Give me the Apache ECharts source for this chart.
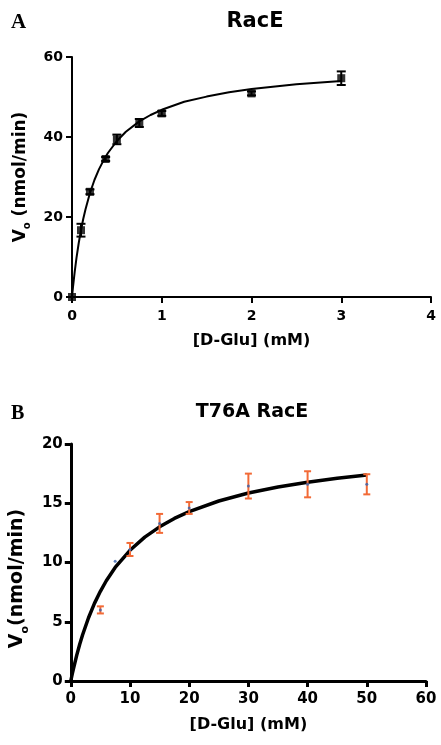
<!DOCTYPE html>
<html>
<head>
<meta charset="utf-8">
<script src="https://cdn.jsdelivr.net/npm/echarts@6/dist/echarts.min.js"></script>
<style>
html,body{margin:0;padding:0;background:#fff;}
#c{width:441px;height:745px;}
</style>
</head>
<body>
<div id="c"></div>
<script>
// Panel A: RacE
var concA = [0, 0.1, 0.2, 0.375, 0.5, 0.75, 1, 2, 3];
var rateA = [0, 16.7, 26.3, 34.5, 39.4, 43.5, 45.9, 50.9, 54.7];
var errA  = [0, 1.6, 0.6, 0.5, 1.2, 1.0, 0.6, 0.5, 1.7];
var fitXA = [0, 0.01, 0.02, 0.03, 0.05, 0.075, 0.1, 0.125, 0.15, 0.2, 0.25, 0.3, 0.35, 0.4, 0.5, 0.6, 0.75, 0.875, 1, 1.25, 1.5, 1.75, 2, 2.5, 3];
var fitYA = [0, 2.25, 4.3, 6.27, 9.8, 13.5, 16.7, 19.5, 21.9, 26.0, 29.25, 31.9, 34.1, 36.0, 39.0, 41.3, 43.9, 45.5, 46.8, 48.8, 50.1, 51.2, 52.0, 53.2, 54.0];

// Panel B: T76A RacE
var concB = [5, 7.5, 10, 15, 20, 30, 40, 50];
var rateB = [6.0, 10.1, 11.1, 13.3, 14.6, 16.45, 16.6, 16.6];
var errB  = [0.3, 0, 0.55, 0.8, 0.5, 1.05, 1.1, 0.85];
var fitXB = [0, 0.25, 0.5, 1, 1.5, 2, 3, 4, 5, 6, 7.5, 10, 12.5, 15, 17.5, 20, 25, 30, 35, 40, 45, 50];
var fitYB = [0, 0.59, 1.14, 2.16, 3.08, 3.90, 5.34, 6.55, 7.57, 8.46, 9.58, 11.03, 12.14, 13.01, 13.72, 14.29, 15.19, 15.86, 16.37, 16.77, 17.11, 17.38];

function zip2(a, b) { return a.map(function (v, i) { return [v, b[i]]; }); }
function zip3(a, b, c) { return a.map(function (v, i) { return [v, b[i], c[i]]; }); }

function errRender(color, width, capHalf) {
  return function (params, api) {
    var x = api.value(0), y = api.value(1), e = api.value(2);
    if (!e) return null;
    var top = api.coord([x, y + e]);
    var bot = api.coord([x, y - e]);
    var st = { stroke: color, lineWidth: width };
    return {
      type: 'group',
      children: [
        { type: 'line', shape: { x1: top[0], y1: top[1], x2: bot[0], y2: bot[1] }, style: st },
        { type: 'line', shape: { x1: top[0] - capHalf, y1: top[1], x2: top[0] + capHalf, y2: top[1] }, style: st },
        { type: 'line', shape: { x1: bot[0] - capHalf, y1: bot[1], x2: bot[0] + capHalf, y2: bot[1] }, style: st }
      ]
    };
  };
}

var FONT = 'DejaVu Sans';
var chart = echarts.init(document.getElementById('c'), null, { renderer: 'canvas' });

function xAxisCfg(idx, max, interval, lw, fs, margin, nameGap) {
  return {
    type: 'value', gridIndex: idx, min: 0, max: max, interval: interval,
    name: '[D-Glu] (mM)', nameLocation: 'middle', nameGap: nameGap,
    nameTextStyle: { fontFamily: FONT, fontWeight: 'bold', fontSize: 16, color: '#000' },
    axisLine: { show: true, onZero: false, lineStyle: { color: '#000', width: lw } },
    axisTick: { show: true, inside: false, length: 6, lineStyle: { color: '#000', width: lw } },
    axisLabel: { color: '#000', fontFamily: FONT, fontWeight: 'bold', fontSize: fs, margin: margin },
    splitLine: { show: false }
  };
}
function yAxisCfg(idx, max, interval, lw, fs, margin, nameGap, nameText, nameSize, pad) {
  return {
    type: 'value', gridIndex: idx, min: 0, max: max, interval: interval,
    name: nameText, nameLocation: 'middle', nameGap: nameGap, nameRotate: 90,
    nameTextStyle: {
      fontFamily: FONT, fontWeight: 'bold', fontSize: nameSize, color: '#000', padding: pad,
      rich: {
        sub: { fontFamily: FONT, fontWeight: 'bold', fontSize: Math.round(nameSize * 0.6), color: '#000', verticalAlign: 'bottom', padding: [0, 0, -4, 0] }
      }
    },
    axisLine: { show: true, onZero: false, lineStyle: { color: '#000', width: lw } },
    axisTick: { show: true, inside: false, length: 6, lineStyle: { color: '#000', width: lw } },
    axisLabel: { color: '#000', fontFamily: FONT, fontWeight: 'bold', fontSize: fs, margin: margin },
    splitLine: { show: false }
  };
}

var option = {
  backgroundColor: '#fff',
  animation: false,
  title: [
    { text: 'RacE', left: 250, top: 6, textAlign: 'center',
      textStyle: { fontFamily: FONT, fontWeight: 'bold', fontSize: 21, color: '#000' } },
    { text: 'T76A RacE', left: 247, top: 398, textAlign: 'center',
      textStyle: { fontFamily: FONT, fontWeight: 'bold', fontSize: 19, color: '#000' } },
    { text: 'A', left: 6, top: 7,
      textStyle: { fontFamily: 'Liberation Serif', fontWeight: 'bold', fontSize: 21, color: '#000' } },
    { text: 'B', left: 6, top: 399,
      textStyle: { fontFamily: 'Liberation Serif', fontWeight: 'bold', fontSize: 20, color: '#000' } }
  ],
  grid: [
    { left: 72, top: 57, width: 359, height: 240, containLabel: false },
    { left: 70, top: 444, width: 356, height: 237, containLabel: false }
  ],
  xAxis: [
    xAxisCfg(0, 4, 1, 2, 14, 12, 36),
    xAxisCfg(1, 60, 10, 3, 15, 11, 36)
  ],
  yAxis: [
    yAxisCfg(0, 60, 20, 2, 14, 9, 43, 'V{sub|o} (nmol/min)', 17, [0, 0, 0, 0]),
    yAxisCfg(1, 20, 5, 3, 15, 8, 41, 'V{sub|o}(nmol/min)', 19, [0, 32, 0, 0])
  ],
  series: [
    { type: 'line', xAxisIndex: 0, yAxisIndex: 0, data: zip2(fitXA, fitYA),
      showSymbol: false, smooth: false,
      lineStyle: { color: '#000', width: 2, join: 'round' }, z: 2 },
    { type: 'custom', xAxisIndex: 0, yAxisIndex: 0, data: zip3(concA, rateA, errA),
      renderItem: errRender('#000', 2, 4.5), encode: { x: 0, y: 1 }, z: 3 },
    { type: 'scatter', xAxisIndex: 0, yAxisIndex: 0, data: zip2(concA, rateA),
      symbol: 'rect', symbolSize: 8, itemStyle: { color: '#000' }, z: 4 },

    { type: 'line', xAxisIndex: 1, yAxisIndex: 1, data: zip2(fitXB, fitYB),
      showSymbol: false, smooth: false,
      lineStyle: { color: '#000', width: 3.5, join: 'round' }, z: 2 },
    { type: 'custom', xAxisIndex: 1, yAxisIndex: 1, data: zip3(concB, rateB, errB),
      renderItem: errRender('#f26a36', 2, 3.5), encode: { x: 0, y: 1 }, z: 3 },
    { type: 'scatter', xAxisIndex: 1, yAxisIndex: 1, data: zip2(concB, rateB),
      symbol: 'circle', symbolSize: 3, itemStyle: { color: '#3462b0' }, z: 4 }
  ]
};
chart.setOption(option);
</script>
</body>
</html>
